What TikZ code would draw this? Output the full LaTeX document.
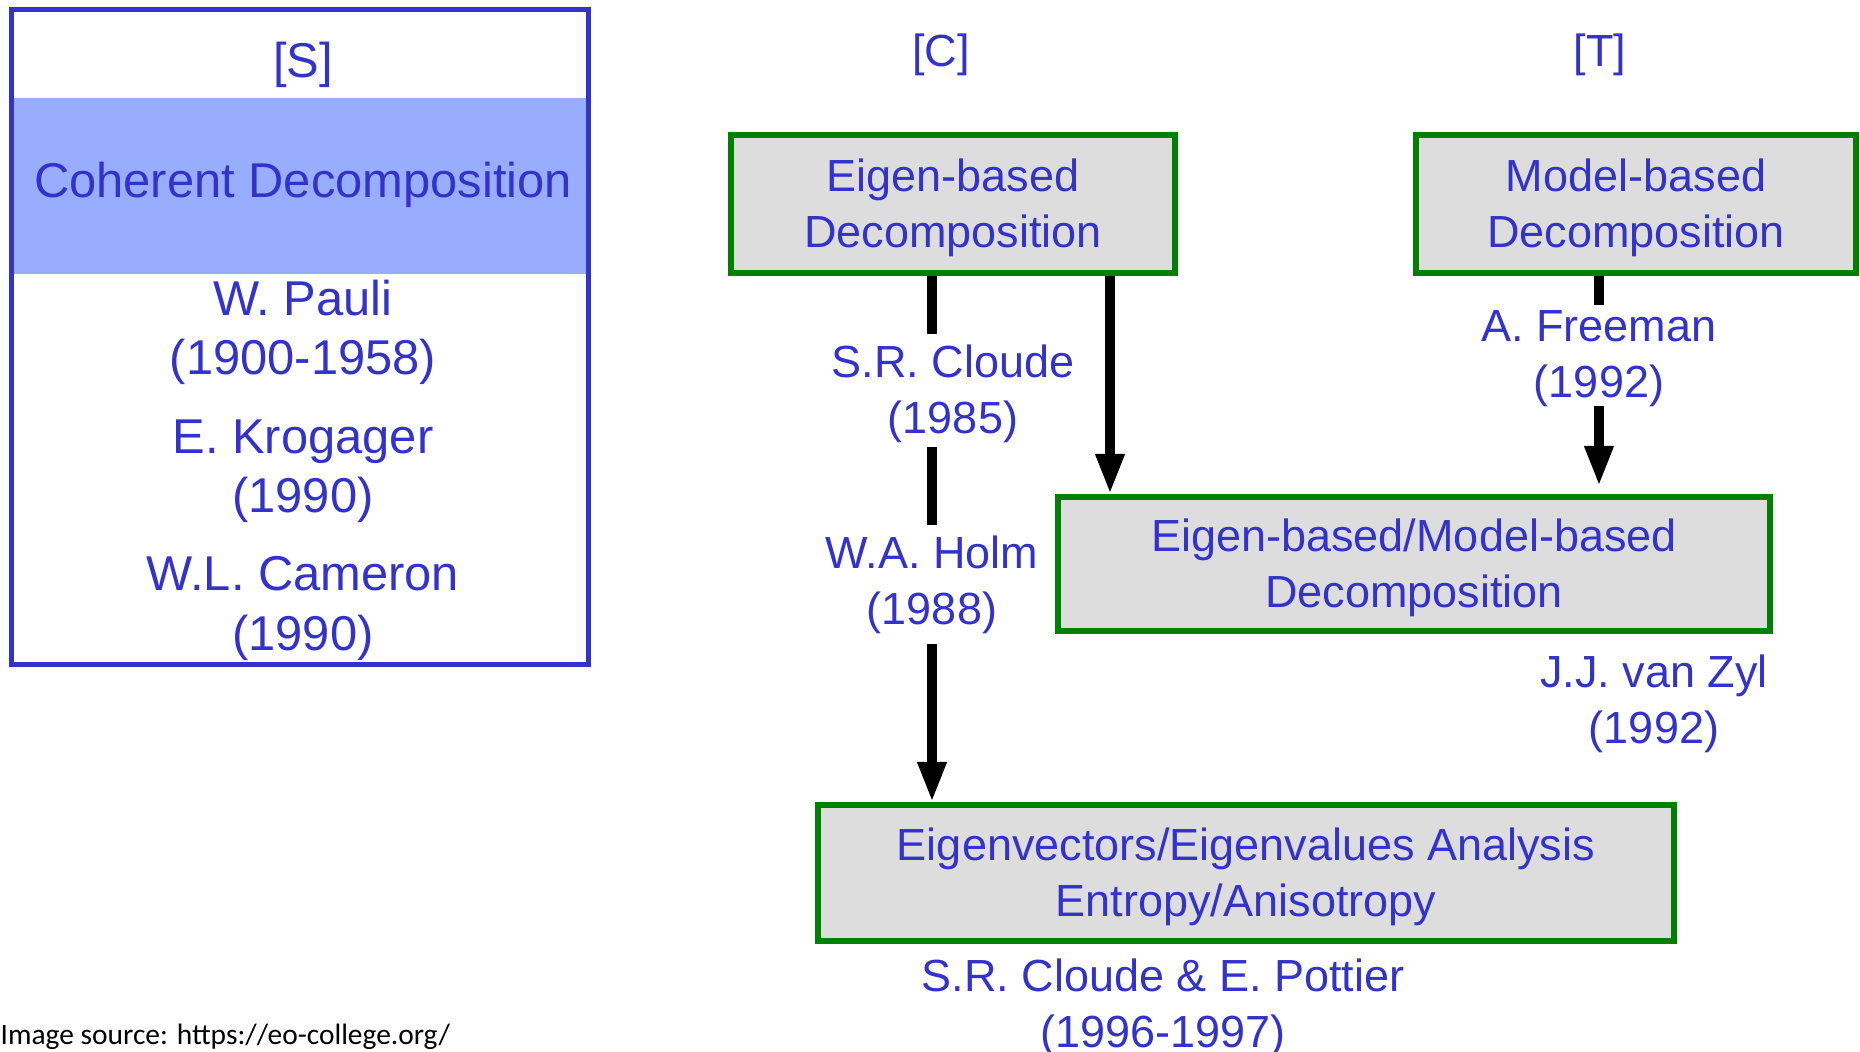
\documentclass[tikz,border=0pt]{standalone}
\usepackage{fontspec}
\setmainfont{Liberation Sans}
\newfontfamily\notefont{Carlito}
\usetikzlibrary{positioning,arrows.meta}
\definecolor{polblue}{RGB}{51,51,204}
\definecolor{polband}{RGB}{153,173,255}
\definecolor{polgreen}{RGB}{0,128,0}
\definecolor{polgray}{RGB}{221,221,221}
\newcommand{\boxlift}{\rule{0pt}{11.3pt}}
\tikzset{
  methodbox/.style={rectangle, draw=polgreen, line width=1.7pt, fill=polgray,
    inner sep=0pt, align=center, text=polblue, font=\fontsize{12.8}{15.9}\selectfont},
  namestyle/.style={align=center, text=polblue, inner sep=1mm,
    font=\fontsize{12.8}{15.9}\selectfont},
  coherentstyle/.style={align=center, text=polblue, inner sep=0pt,
    font=\fontsize{13.9}{16.8}\selectfont},
  barstyle/.style={line width=0.95mm, black},
  arrowstyle/.style={barstyle, -{Triangle[length=4mm, width=2.7mm]}}
}

\begin{document}
\begin{tikzpicture}[x=0.01cm, y=-0.01cm]
  \useasboundingbox (0,0) rectangle (1860,1052);

  % coherent decomposition panel
  \node[fill=polband, minimum width=5.72cm, minimum height=1.76cm, inner sep=0pt] (sband) at (300,186) {};
  \node[draw=polblue, line width=1.42pt, minimum width=5.76cm, minimum height=6.54cm, inner sep=0pt] (spanel) at (300,337) {};
  \node[coherentstyle] (slabel) at (303,65) {[S]};
  \node[coherentstyle] (coherent) at (303,185) {Coherent Decomposition};
  \node[coherentstyle] (pauli) at (303,332.5) {W. Pauli\\(1900-1958)};
  \node[coherentstyle] (krogager) at (303,471.5) {E. Krogager\\(1990)};
  \node[coherentstyle] (cameron) at (303,608.5) {W.L. Cameron\\(1990)};

  % incoherent decompositions
  \node[namestyle] (clabel) at (941,55) {[C]};
  \node[namestyle] (tlabel) at (1600,55) {[T]};
  \node[methodbox, minimum width=4.44cm, minimum height=1.37cm] (eigen) at (953,204) {\boxlift Eigen-based\\Decomposition};
  \node[methodbox, minimum width=4.39cm, minimum height=1.37cm] (model) at (1636,204) {\boxlift Model-based\\Decomposition};
  \node[methodbox, minimum width=7.12cm, minimum height=1.34cm] (hybrid) at (1414,564) {\boxlift Eigen-based/Model-based\\Decomposition};
  \node[methodbox, minimum width=8.55cm, minimum height=1.36cm] (analysis) at (1246,873) {\boxlift Eigenvectors/Eigenvalues Analysis\\Entropy/Anisotropy};

  \node[namestyle] (cloude) at (953,393.5) {S.R. Cloude\\(1985)};
  \node[namestyle] (holm) at (932,584.5) {W.A. Holm\\(1988)};
  \node[namestyle, inner sep=0.5mm] (freeman) at (1599,358.5) {A. Freeman\\(1992)};
  \node[namestyle] (vanzyl) at (1654,704) {J.J. van Zyl\\(1992)};
  \node[namestyle] (pottier) at (1163,1008) {S.R. Cloude \& E. Pottier\\(1996-1997)};

  \node[anchor=west, inner sep=0pt, font=\notefont\fontsize{8.37}{10}\selectfont] (source) at (0,1037) {Image source: https://eo-college.org/};

  \coordinate (crossx) at (1110,0);
  \draw[barstyle] (eigen.south -| holm.center) -- (holm.center |- cloude.north);
  \draw[barstyle, shorten <=-0.6mm] (holm.center |- cloude.south) -- (holm.north);
  \draw[arrowstyle] (holm.south) -- (holm.center |- analysis.north);
  \draw[arrowstyle] (eigen.south -| crossx) -- (hybrid.north -| crossx);
  \draw[barstyle] (model.south -| freeman.center) -- (freeman.north);
  \draw[arrowstyle, shorten <=-0.6mm, shorten >=0.8mm] (freeman.south) -- (hybrid.north -| freeman.center);
\end{tikzpicture}
\end{document}
